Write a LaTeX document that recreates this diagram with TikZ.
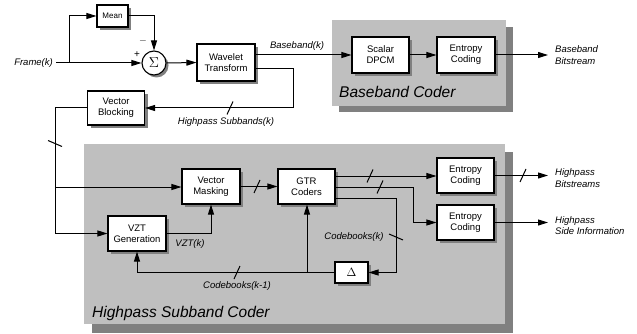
\documentclass[tikz,border=0pt]{standalone}
\usepackage{fontspec}
\setmainfont{Liberation Sans}
\usetikzlibrary{arrows.meta,calc,shadows}
\definecolor{panel}{gray}{0.75}
\definecolor{pshadow}{gray}{0.5}
\begin{document}
\begin{tikzpicture}[x=1pt,y=-1pt,
  box/.style={draw, line width=1.1pt, fill=white, align=center, inner sep=0pt,
    font=\fontsize{9.5}{11}\selectfont,
    drop shadow={shadow xshift=3pt, shadow yshift=-3pt, fill=black!50, opacity=1}},
  lab/.style={font=\fontsize{9.5}{11.5}\selectfont\itshape, inner sep=0pt, align=left},
  biglab/.style={font=\fontsize{15.5}{18}\selectfont\itshape, inner sep=0pt, anchor=west},
  conn/.style={line width=1pt},
  arr/.style={conn, -{Triangle[length=10pt,width=6pt]}},
  slashln/.style={line width=1pt}
]
\useasboundingbox (0,0) rectangle (637,334);
% panels
\fill[pshadow] (339,27) rectangle (513,112);
\fill[panel] (332,20) rectangle (506,106);
\fill[pshadow] (92,152) rectangle (513,333);
\fill[panel] (84,144) rectangle (505,324);
\node[biglab] (bbc) at (339,92) {Baseband Coder};
\node[biglab] (hsc) at (92,313) {Highpass Subband Coder};

% nodes
\node[box, minimum width=31pt, minimum height=22pt, font=\fontsize{8}{9}\selectfont] (mean) at (112.5,16) {Mean};
\node[circle, draw, line width=1.1pt, fill=white, minimum size=24pt, inner sep=0pt,
  drop shadow={shadow xshift=2.5pt, shadow yshift=-2.5pt, fill=black!50, opacity=1}] (sg) at (154,63) {\Large$\Sigma$};
\node[box, minimum width=58pt, minimum height=37pt] (wt) at (226,62.5) {Wavelet\\Transform};
\node[box, minimum width=57pt, minimum height=34pt] (vb) at (116,108) {Vector\\Blocking};
\node[box, minimum width=57pt, minimum height=36pt] (dpcm) at (380.5,55) {Scalar\\DPCM};
\node[box, minimum width=58pt, minimum height=36pt] (ecb) at (466,55) {Entropy\\Coding};
\node[box, minimum width=58pt, minimum height=35pt] (vm) at (211,186.5) {Vector\\Masking};
\node[box, minimum width=57pt, minimum height=35pt] (gtr) at (306.5,186.5) {GTR\\Coders};
\node[box, minimum width=58pt, minimum height=35pt] (vzt) at (137,233.5) {VZT\\Generation};
\node[box, minimum width=33pt, minimum height=21pt, font=\fontsize{12}{12}\selectfont] (dl) at (351.5,272.5) {$\Delta$};
\node[box, minimum width=57pt, minimum height=35pt] (ec1) at (465.5,175.5) {Entropy\\Coding};
\node[box, minimum width=57pt, minimum height=35pt] (ec2) at (465.5,222.5) {Entropy\\Coding};

% text labels
\node[lab, anchor=east] (frame) at (53,63) {Frame(k)};
\node[font=\fontsize{10}{10}\selectfont, inner sep=0pt] (plus) at (137,55) {+};
\node[font=\fontsize{10}{10}\selectfont, inner sep=0pt] (minus) at (143,41) {$-$};
\node[lab] (lbb) at (297,46) {Baseband(k)};
\node[lab] (lhs) at (226,122) {Highpass Subbands(k)};
\node[lab] (lvzt) at (190,244) {VZT(k)};
\node[lab] (lcb1) at (237,286) {Codebooks(k-1)};
\node[lab] (lcbk) at (354,237) {Codebooks(k)};
\node[lab, anchor=west] (obb) at (555,55) {Baseband\\Bitstream};
\node[lab, anchor=west] (ohb) at (555,178) {Highpass\\Bitstreams};
\node[lab, anchor=west] (ohs) at (555,225.5) {Highpass\\Side Information};

% coordinates
\coordinate (fb) at (69,63);
\coordinate (hp1) at (293,69);
\coordinate (hp2) at (293,108);
\coordinate (vl) at (55,108);
\coordinate (vbr) at (55,187);
\coordinate (vbot) at (55,233.5);
\coordinate (vztm) at (211,233.5);
\coordinate (g1) at (335,176);
\coordinate (g2) at (335,187);
\coordinate (g3) at (335,198);
\coordinate (g2a) at (413,187);
\coordinate (g2b) at (413,222.5);
\coordinate (g3a) at (396,198);
\coordinate (g3b) at (396,272.5);
\coordinate (cbj) at (307,272.5);
\coordinate (cbl) at (137,272.5);
\coordinate (o1) at (548,175.5);
\coordinate (o2) at (548,222.5);
\coordinate (ob) at (548,55);
\coordinate (s1) at (230,108);
\coordinate (s2) at (55,143.5);
\coordinate (s3) at (257,186.5);
\coordinate (s4) at (370,176);
\coordinate (s5) at (380,187);
\coordinate (s6) at (396,237);
\coordinate (s7) at (237,272.5);
\coordinate (s8) at (523,175.5);

% connectors
\draw[arr] (frame.east) ++(3,0) -- (sg.west);
\draw[arr] (fb) |- (mean.west);
\draw[arr] (mean.east) -| (sg.north);
\draw[arr] (sg.east) -- (wt.west);
\draw[arr] (wt.east |- dpcm.west) -- (dpcm.west);
\draw[arr] (dpcm.east) -- (ecb.west);
\draw[arr] (ecb.east) -- (ob);
\draw[arr] (wt.east |- hp1) -- (hp1) -- (hp2) -- (vb.east);
\draw[conn] (vb.west) -- (vl) -- (vbot);
\draw[arr] (vbr) -- (vm.west |- vbr);
\draw[arr] (vbot) -- (vzt.west);
\draw[arr] (vzt.east) -- (vztm) -- (vm.south);
\draw[arr] (vm.east) -- (gtr.west);
\draw[arr] (g1) -- (ec1.west |- g1);
\draw[arr] (g2) -- (g2a) -- (g2b) -- (ec2.west);
\draw[arr] (g3) -- (g3a) -- (g3b) -- (dl.east);
\draw[arr] (dl.west) -- (cbl) -- (vzt.south);
\draw[arr] (cbj) -- (cbj |- gtr.south);
\draw[arr] (ec1.east) -- (o1);
\draw[arr] (ec2.east) -- (o2);

% bus slashes
\foreach \c in {s1,s3,s4,s5,s7,s8}
  \draw[slashln] ($(\c)+(-3,6.5)$) -- ($(\c)+(3,-6.5)$);
\foreach \c in {s2,s6}
  \draw[slashln] ($(\c)+(-7,-3)$) -- ($(\c)+(7,3)$);
\end{tikzpicture}
\end{document}
